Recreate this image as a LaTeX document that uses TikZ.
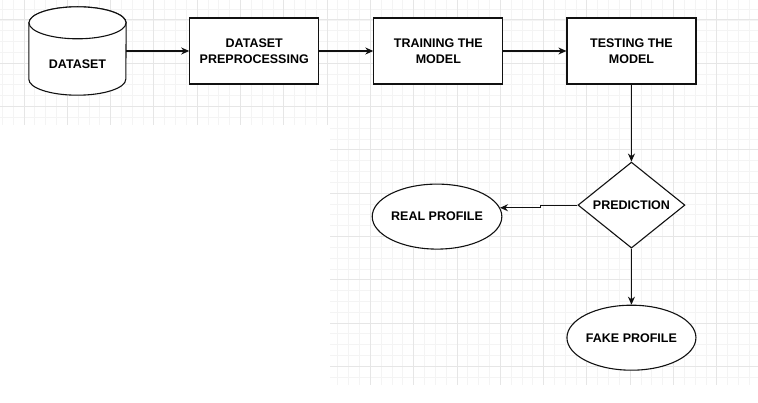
\documentclass[tikz,border=0pt]{standalone}
\usepackage{fontspec}
\setmainfont{Liberation Sans}
\usetikzlibrary{arrows.meta,positioning,shapes.geometric}
\definecolor{inkline}{HTML}{111111}
\definecolor{gridmajor}{HTML}{E6E6E6}
\definecolor{gridminor}{HTML}{F4F4F4}
\newcommand{\boxfont}{\fontsize{12.5}{16.5}\selectfont\bfseries}
\tikzset{
  stepbox/.style={
    rectangle, draw=inkline, line width=1.1pt,
    fill=white, align=center, inner sep=0pt,
    minimum width=129pt, minimum height=66pt, font=\boxfont
  },
  dbstore/.style={
    rectangle, inner sep=0pt,
    minimum width=97pt, minimum height=88pt, font=\boxfont
  },
  dbline/.style={draw=inkline, line width=1.1pt, fill=white},
  decision/.style={
    diamond, aspect=1.25, draw=inkline, line width=1.1pt,
    fill=white, inner sep=1pt,
    minimum width=107pt, minimum height=86pt, font=\boxfont
  },
  outcome/.style={
    ellipse, draw=inkline, line width=1.1pt, fill=white,
    inner sep=0pt, minimum width=129pt, minimum height=65pt,
    font=\boxfont
  },
  flowarrow/.style={-{Stealth[length=8pt,width=7pt]}, line width=1.1pt, color=inkline},
  majorgrid/.style={draw=gridmajor, line width=0.6pt},
  minorgrid/.style={draw=gridminor, line width=0.5pt},
}
\begin{document}
\begin{tikzpicture}[node distance=63pt]
  \useasboundingbox (0,0) rectangle (758pt,-403pt);
  \begin{scope}[shift={(23.8pt,-19.8pt)}]
    \draw[minorgrid, step=10.825pt] (-23.8pt,19.8pt) grid (734.2pt,-105.2pt);
    \draw[minorgrid, step=10.825pt] (306.2pt,-105.2pt) grid (734.2pt,-365.2pt);
    \draw[majorgrid, step=43.3pt] (-23.8pt,19.8pt) grid (734.2pt,-105.2pt);
    \draw[majorgrid, step=43.3pt] (306.2pt,-105.2pt) grid (734.2pt,-365.2pt);
  \end{scope}
  \node[dbstore] (data) at (77.5pt,-51pt) {};
  \draw[dbline] ([yshift=-16pt]data.north west) -- ([yshift=16pt]data.south west)
    arc[start angle=180, end angle=360, x radius=48.5pt, y radius=16pt]
    -- ([yshift=-16pt]data.north east)
    arc[start angle=0, end angle=180, x radius=48.5pt, y radius=16pt] -- cycle;
  \draw[dbline] ([yshift=-16pt]data.north) ellipse[x radius=48.5pt, y radius=16pt];
  \node[font=\boxfont] (datatext) at ([yshift=-13pt]data.center) {DATASET};
  \node[stepbox, right=of data] (prep) {DATASET\\PREPROCESSING};
  \node[stepbox, right=54pt of prep] (train) {TRAINING THE\\MODEL};
  \node[stepbox, right=of train] (test) {TESTING THE\\MODEL};
  \node[decision, below=77pt of test] (pred) {PREDICTION};
  \node[outcome, left=75pt of pred, yshift=-11.5pt] (real) {REAL PROFILE};
  \node[outcome, below=56pt of pred] (fake) {FAKE PROFILE};
  \foreach \a/\b in {data/prep,prep/train,train/test,test/pred,pred/fake}
    \draw[flowarrow] (\a) -- (\b);
  \draw[flowarrow] (pred.west) -- ++(-37pt,0) |- (real.8);
\end{tikzpicture}
\end{document}
